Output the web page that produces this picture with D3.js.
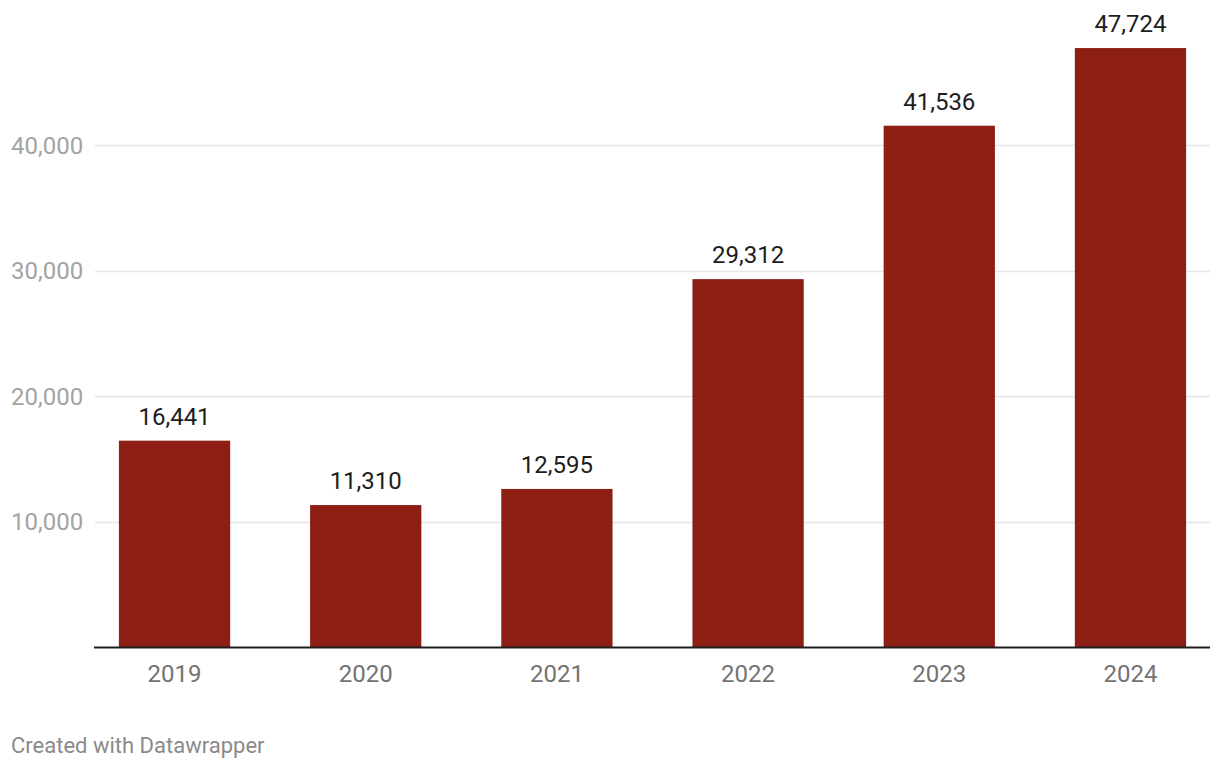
<!DOCTYPE html>
<html>
<head>
<meta charset="utf-8">
<script src="https://cdn.jsdelivr.net/npm/d3@7"></script>
<style>
body { margin: 0; background: #fff; font-family: Roboto, sans-serif; }
</style>
</head>
<body>
<svg id="chart"></svg>
<script>
var years = ["2019", "2020", "2021", "2022", "2023", "2024"];
var values = [16441, 11310, 12595, 29312, 41536, 47724];
var yTicks = [10000, 20000, 30000, 40000];

var width = 1220, height = 770;
var left = 95, right = 1210, baseY = 647;

var svg = d3.select("#chart")
	.attr("width", width)
	.attr("height", height);

var x = d3.scaleBand()
	.domain(years)
	.range([left, right])
	.paddingInner(0.418)
	.paddingOuter(0.125);

var y = d3.scaleLinear()
	.domain([0, 50000])
	.range([baseY, baseY - 627.5]);

var fmt = d3.format(",");

// gridlines + tick labels
var grid = svg.append("g");
grid.selectAll("line")
	.data(yTicks)
	.enter().append("line")
	.attr("x1", left)
	.attr("x2", right)
	.attr("y1", function(d) { return Math.round(y(d)) + 0.5; })
	.attr("y2", function(d) { return Math.round(y(d)) + 0.5; })
	.attr("stroke", "#e5e5e5")
	.attr("stroke-width", 1.5);
grid.selectAll("text")
	.data(yTicks)
	.enter().append("text")
	.attr("x", 11)
	.attr("y", function(d) { return y(d) + 8.5; })
	.attr("font-size", 24)
	.attr("fill", "#a3a3a3")
	.text(fmt);

// bars
svg.append("g").selectAll("rect")
	.data(values)
	.enter().append("rect")
	.attr("x", function(d, i) { return x(years[i]); })
	.attr("y", function(d) { return y(d); })
	.attr("width", x.bandwidth())
	.attr("height", function(d) { return baseY - y(d); })
	.attr("fill", "#8c1e14");

// value labels
svg.append("g").selectAll("text")
	.data(values)
	.enter().append("text")
	.attr("x", function(d, i) { return x(years[i]) + x.bandwidth() / 2; })
	.attr("y", function(d) { return y(d) - 16; })
	.attr("text-anchor", "middle")
	.attr("font-size", 24)
	.attr("fill", "#1d1d1d")
	.text(fmt);

// baseline
svg.append("line")
	.attr("x1", left - 1)
	.attr("x2", right)
	.attr("y1", baseY + 0.5)
	.attr("y2", baseY + 0.5)
	.attr("stroke", "#1d1d1d")
	.attr("stroke-width", 2);

// x axis labels
svg.append("g").selectAll("text")
	.data(years)
	.enter().append("text")
	.attr("x", function(d) { return x(d) + x.bandwidth() / 2; })
	.attr("y", 682)
	.attr("text-anchor", "middle")
	.attr("font-size", 24)
	.attr("fill", "#737373")
	.text(function(d) { return d; });

svg.append("text")
	.attr("x", 11)
	.attr("y", 753)
	.attr("font-size", 22)
	.attr("fill", "#8a8a8a")
	.text("Created with Datawrapper");
</script>
</body>
</html>
